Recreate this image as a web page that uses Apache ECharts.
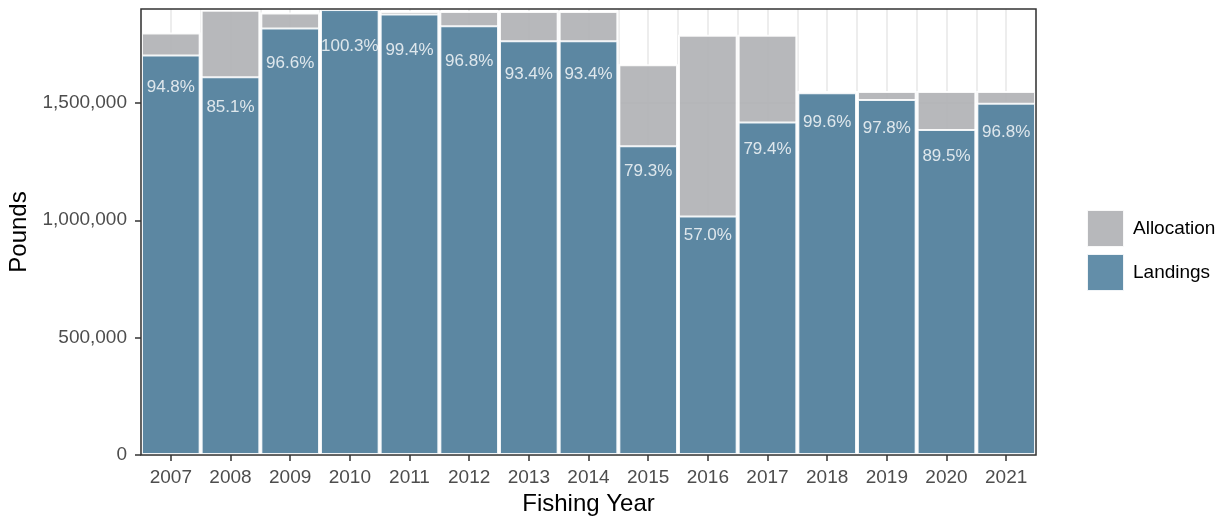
<!DOCTYPE html>
<html>
<head>
<meta charset="utf-8">
<script src="https://cdn.jsdelivr.net/npm/echarts@6/dist/echarts.min.js"></script>
<style>
  html, body { margin: 0; padding: 0; background: #ffffff; }
  #chart { width: 1225px; height: 516px; }
</style>
</head>
<body>
<div id="chart"></div>
<script>
// ---- data ----
const years = ['2007','2008','2009','2010','2011','2012','2013','2014','2015','2016','2017','2018','2019','2020','2021'];
const allocation = [1800000, 1897000, 1885000, 1894000, 1892000, 1892000, 1892000, 1892000, 1665000, 1790000, 1790000, 1551000, 1551000, 1551000, 1551000];
const landings   = [1706000, 1614000, 1821000, 1900000, 1881000, 1831000, 1767000, 1767000, 1320000, 1020000, 1421000, 1545000, 1517000, 1389000, 1501000];
const pctLabels  = [94.8, 85.1, 96.6, 100.3, 99.4, 96.8, 93.4, 93.4, 79.3, 57.0, 79.4, 99.6, 97.8, 89.5, 96.8];
const yTicks = [0, 500000, 1000000, 1500000];
const yMax = 1900000;

// ---- layout / style ----
const FONT = "'Liberation Sans', Arial, Helvetica, sans-serif";
const G = { left: 141, right: 189, top: 9, bottom: 61 };
const W = 1225, H = 516;
const LABEL_FRACTION = 0.917; // label sits a bit below the top of each landings bar

const chart = echarts.init(document.getElementById('chart'), null, { renderer: 'canvas' });

const option = {
  backgroundColor: '#ffffff',
  animation: false,
  textStyle: { fontFamily: FONT },
  grid: {
    left: G.left, right: G.right, top: G.top, bottom: G.bottom,
    containLabel: false, outerBoundsMode: 'none'
  },
  legend: {
    data: ['Allocation', 'Landings'],
    orient: 'vertical',
    left: 1081,
    top: 204,
    itemWidth: 37,
    itemHeight: 37,
    itemGap: 5,
    icon: 'rect',
    textStyle: { fontSize: 19, color: '#000000', fontFamily: FONT, padding: [0, 0, 0, 4] }
  },
  xAxis: [
    {
      type: 'category',
      data: years,
      boundaryGap: true,
      name: 'Fishing Year',
      nameLocation: 'middle',
      nameGap: 31,
      nameTextStyle: { fontSize: 24, color: '#000000', fontFamily: FONT },
      axisLine: { show: false },
      axisTick: { show: true, alignWithLabel: true, length: 6, lineStyle: { color: '#333333', width: 1.5 } },
      axisLabel: { fontSize: 19, color: '#4D4D4D', margin: 13, fontFamily: FONT },
      splitLine: { show: false }
    },
    {
      // helper axis used only to draw the major + minor vertical grid lines
      type: 'value',
      min: 0,
      max: years.length * 2,
      interval: 1,
      position: 'bottom',
      axisLine: { show: false },
      axisTick: { show: false },
      axisLabel: { show: false },
      splitLine: { show: true, lineStyle: { color: '#EBEBEB', width: 1.8 } }
    }
  ],
  yAxis: {
    type: 'value',
    min: 0,
    max: yMax,
    interval: 250000,
    name: 'Pounds',
    nameLocation: 'middle',
    nameGap: 109,
    nameTextStyle: { fontSize: 24, color: '#000000', fontFamily: FONT },
    axisLine: { show: false },
    axisTick: { show: true, length: 6, customValues: yTicks, lineStyle: { color: '#333333', width: 1.5 } },
    axisLabel: {
      fontSize: 19, color: '#4D4D4D', margin: 14, fontFamily: FONT,
      customValues: yTicks,
      formatter: v => v.toLocaleString('en-US')
    },
    splitLine: { show: true, lineStyle: { color: '#EBEBEB', width: 1.8 } }
  },
  series: [
    {
      name: 'Allocation',
      type: 'bar',
      data: allocation,
      barWidth: '100%',
      barGap: '-100%',
      itemStyle: { color: '#AFB0B4', opacity: 0.9, borderColor: '#ffffff', borderWidth: 2 },
      z: 2
    },
    {
      name: 'Landings',
      type: 'bar',
      data: landings,
      barWidth: '100%',
      barGap: '-100%',
      itemStyle: { color: '#5282A0', opacity: 0.9, borderColor: '#ffffff', borderWidth: 2 },
      z: 3
    },
    {
      name: 'pct',
      type: 'scatter',
      data: landings.map(v => v * LABEL_FRACTION),
      symbolSize: 1,
      itemStyle: { color: 'rgba(0,0,0,0)' },
      silent: true,
      z: 5,
      label: {
        show: true,
        position: 'inside',
        color: '#ffffff',
        fontSize: 17,
        fontFamily: FONT,
        formatter: p => pctLabels[p.dataIndex].toFixed(1) + '%'
      }
    }
  ],
  graphic: [
    {
      type: 'rect',
      z: 100,
      silent: true,
      shape: { x: G.left, y: G.top, width: W - G.left - G.right, height: H - G.top - G.bottom },
      style: { fill: 'none', stroke: '#333333', lineWidth: 1.5 }
    }
  ]
};

chart.setOption(option);
</script>
</body>
</html>
